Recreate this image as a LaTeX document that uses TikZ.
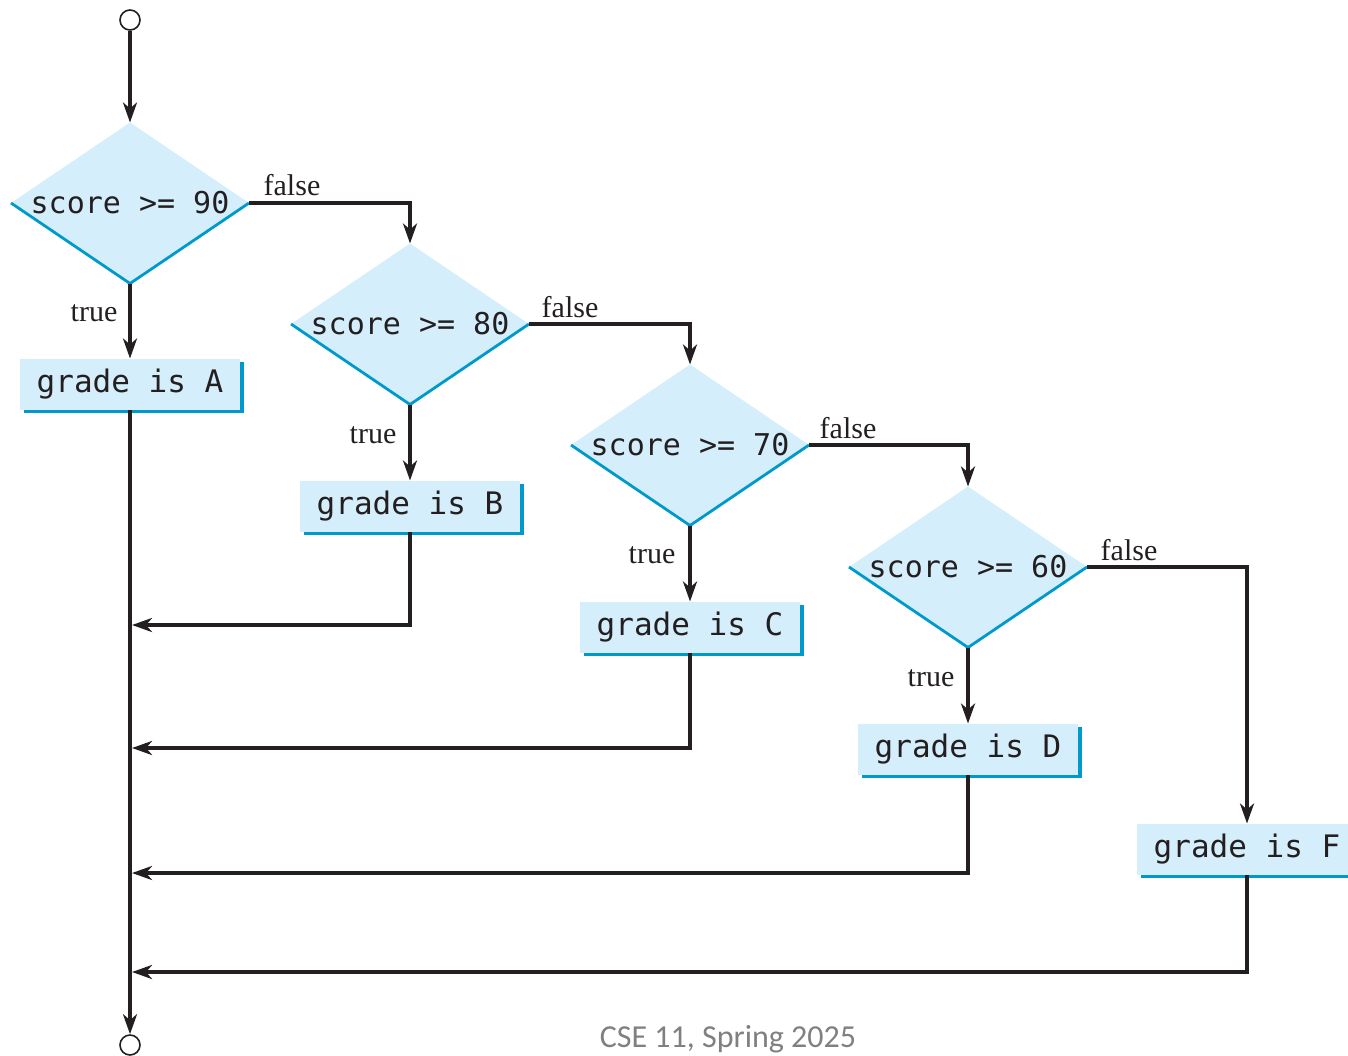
\documentclass[tikz,border=0pt]{standalone}
\usepackage{fontspec}
\setmainfont{Liberation Serif}
\newfontfamily\codefont{DejaVu Sans Mono}
\newfontfamily\footfont{Carlito}
\usetikzlibrary{shapes.geometric,shadows,arrows.meta}

\definecolor{boxfill}{RGB}{213,238,251}
\definecolor{boxedge}{RGB}{0,153,204}
\definecolor{flowline}{RGB}{35,31,32}
\definecolor{footgray}{RGB}{128,128,128}

\tikzset{
  decision/.style={shape=diamond, fill=boxfill, minimum width=119pt, minimum height=80.5pt,
    inner xsep=-25pt, inner ysep=-6pt, outer sep=0pt, text=flowline,
    font=\codefont\fontsize{15}{18}\selectfont},
  action/.style={shape=rectangle, fill=boxfill, minimum width=110pt, minimum height=25.5pt,
    inner sep=0pt, outer sep=0pt, text=flowline, font=\codefont\fontsize{15.5}{18}\selectfont,
    drop shadow={shadow xshift=1.8pt, shadow yshift=-1.8pt, fill=boxedge, opacity=1}},
  terminal/.style={shape=circle, draw=flowline, line width=0.8pt, minimum size=10pt, inner sep=0pt},
  flow/.style={draw=flowline, line width=1.7pt, -{Stealth[length=10pt,width=7pt,inset=3pt]}},
  rim/.style={draw=boxedge, line width=1.4pt, line join=round},
  branch/.style={font=\fontsize{15}{18}\selectfont, text=flowline, inner sep=0pt},
}

\begin{document}
\begin{tikzpicture}[x=0.5pt, y=-0.5pt]
    \useasboundingbox (0, 0) rectangle (1348, 1055);

    \node [terminal] (start) at (130, 20) {};
    \node [terminal] (stop) at (130, 1045) {};

    % tests
    \node [decision] (d90) at (130, 203) {score >= 90};
    \node [decision] (d80) at (410, 324) {score >= 80};
    \node [decision] (d70) at (690, 445) {score >= 70};
    \node [decision] (d60) at (968, 567) {score >= 60};
    \draw [rim] (d90.west) -- (d90.south) -- (d90.east);
    \draw [rim] (d80.west) -- (d80.south) -- (d80.east);
    \draw [rim] (d70.west) -- (d70.south) -- (d70.east);
    \draw [rim] (d60.west) -- (d60.south) -- (d60.east);

    % grades
    \node [action] (gA) at (130, 384) {grade is A};
    \node [action] (gB) at (410, 506) {grade is B};
    \node [action] (gC) at (690, 627) {grade is C};
    \node [action] (gD) at (968, 749) {grade is D};
    \node [action] (gF) at (1247, 849) {grade is F};

    \node [branch] (f90) at (292, 185) {false};
    \node [branch] (f80) at (570, 307) {false};
    \node [branch] (f70) at (848, 428) {false};
    \node [branch] (f60) at (1129, 550) {false};
    \node [branch] (t90) at (94, 313) {true};
    \node [branch] (t80) at (373, 435) {true};
    \node [branch] (t70) at (652, 555) {true};
    \node [branch] (t60) at (931, 678) {true};

    \draw [flow] (start) -- (d90);
    \draw [flow] (d90) -- (gA);
    \draw [flow] (d80) -- (gB);
    \draw [flow] (d70) -- (gC);
    \draw [flow] (d60) -- (gD);

    \draw [flow] (d90) -| (d80);
    \draw [flow] (d80) -| (d70);
    \draw [flow] (d70) -| (d60);
    \draw [flow] (d60) -| (gF);

    \coordinate (jB) at (132, 625);
    \coordinate (jC) at (132, 748);
    \coordinate (jD) at (132, 873);
    \coordinate (jF) at (132, 972);
    \draw [flow] (gA) -- (stop);
    \draw [flow] (gB) |- (jB);
    \draw [flow] (gC) |- (jC);
    \draw [flow] (gD) |- (jD);
    \draw [flow] (gF) |- (jF);

    \node [font=\footfont\fontsize{16}{19}\selectfont, text=footgray, anchor=base, inner sep=0pt] (foot) at (728, 1047) {CSE 11, Spring 2025};
\end{tikzpicture}
\end{document}
